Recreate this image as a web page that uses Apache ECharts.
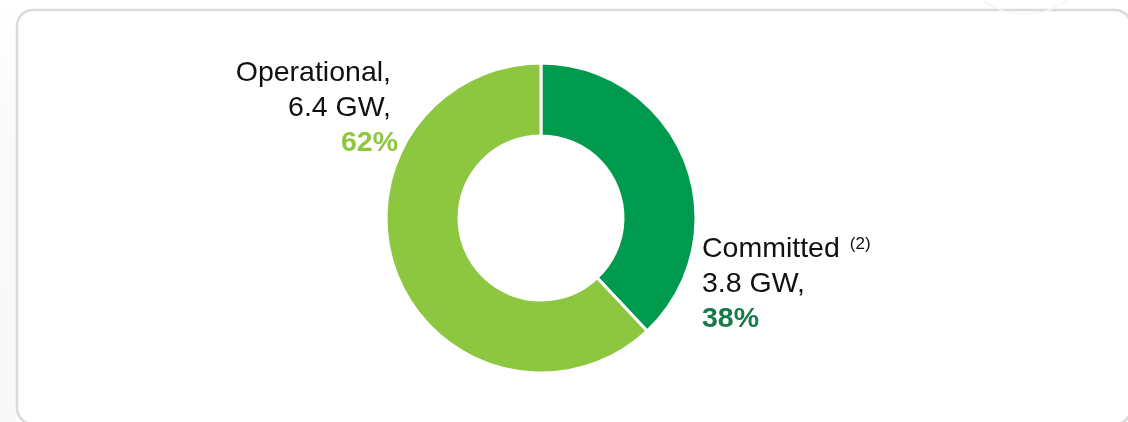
<!DOCTYPE html>
<html>
<head>
<meta charset="utf-8">
<script src="https://cdn.jsdelivr.net/npm/echarts@6/dist/echarts.min.js"></script>
<style>
html,body{margin:0;padding:0;background:#fff;}
#c{width:1128px;height:422px;}
</style>
</head>
<body>
<div id="c"></div>
<script>
// Data
const names = ["Committed", "Operational,"];
const footnotes = ["(2)", ""];
const capacityGW = ["3.8 GW,", "6.4 GW,"];
const shares = [38, 62];
const sliceColors = ["#009A4E", "#8DC63F"];
const pctColors = ["#187A4B", "#8DC63F"];

const chart = echarts.init(document.getElementById('c'), null, {renderer: 'canvas'});

const FONT = 'Liberation Sans, Arial, sans-serif';
const FS = 28.5;

const data = names.map((n, i) => ({
  name: n,
  value: shares[i],
  itemStyle: {color: sliceColors[i]}
}));

const option = {
  animation: false,
  backgroundColor: '#ffffff',
  graphic: [
    {
      type: 'rect',
      shape: {x: 0, y: 0, width: 16, height: 422},
      style: {
        fill: new echarts.graphic.LinearGradient(0, 0, 0, 1, [
          {offset: 0, color: '#ffffff'},
          {offset: 0.3, color: '#fafafa'},
          {offset: 1, color: '#f8f8f8'}
        ])
      },
      z: 0
    },
    {
      type: 'rect',
      shape: {x: 17, y: 10, width: 1114, height: 414, r: 16},
      style: {fill: '#ffffff', stroke: '#dadada', lineWidth: 2.5},
      z: 0
    },
    {
      type: 'circle',
      shape: {cx: 1025, cy: -56, r: 70},
      style: {fill: 'none', stroke: '#f5f5f5', lineWidth: 1.5},
      z: 0
    }
  ],
  series: [{
    type: 'pie',
    center: [541, 218],
    radius: [82, 155],
    startAngle: 90,
    clockwise: true,
    avoidLabelOverlap: false,
    itemStyle: {borderColor: '#ffffff', borderWidth: 3},
    labelLine: {show: false},
    emphasis: {disabled: true},
    label: {
      show: true,
      position: 'outside',
      fontFamily: FONT,
      fontSize: FS,
      formatter: function (p) {
        const i = p.dataIndex;
        const sup = footnotes[i] ? '{sup|' + footnotes[i] + '}' : '';
        const pad = i === 1 ? 'P' : '';
        return '{name' + pad + '|' + names[i] + '}' + sup + '\n{name' + pad + '|' + capacityGW[i] + '}\n{pct' + i + '|' + shares[i] + '%}';
      },
      rich: {
        name: {fontSize: FS, lineHeight: 35, color: '#111111', fontFamily: FONT},
        nameP: {fontSize: FS, lineHeight: 35, color: '#111111', fontFamily: FONT, padding: [0, 7, 0, 0]},
        sup: {fontSize: 17, lineHeight: 18, color: '#111111', verticalAlign: 'top', padding: [4, 0, 0, 10], fontFamily: FONT},
        pct0: {fontSize: FS, lineHeight: 35, fontWeight: 'bold', color: pctColors[0], fontFamily: FONT},
        pct1: {fontSize: FS, lineHeight: 35, fontWeight: 'bold', color: pctColors[1], fontFamily: FONT}
      }
    },
    labelLayout: function (params) {
      if (params.dataIndex === 0) {
        return {x: 702, y: 231.5, align: 'left', verticalAlign: 'top'};
      }
      return {x: 398, y: 56, align: 'right', verticalAlign: 'top'};
    },
    data: data
  }]
};
chart.setOption(option);
</script>
</body>
</html>
